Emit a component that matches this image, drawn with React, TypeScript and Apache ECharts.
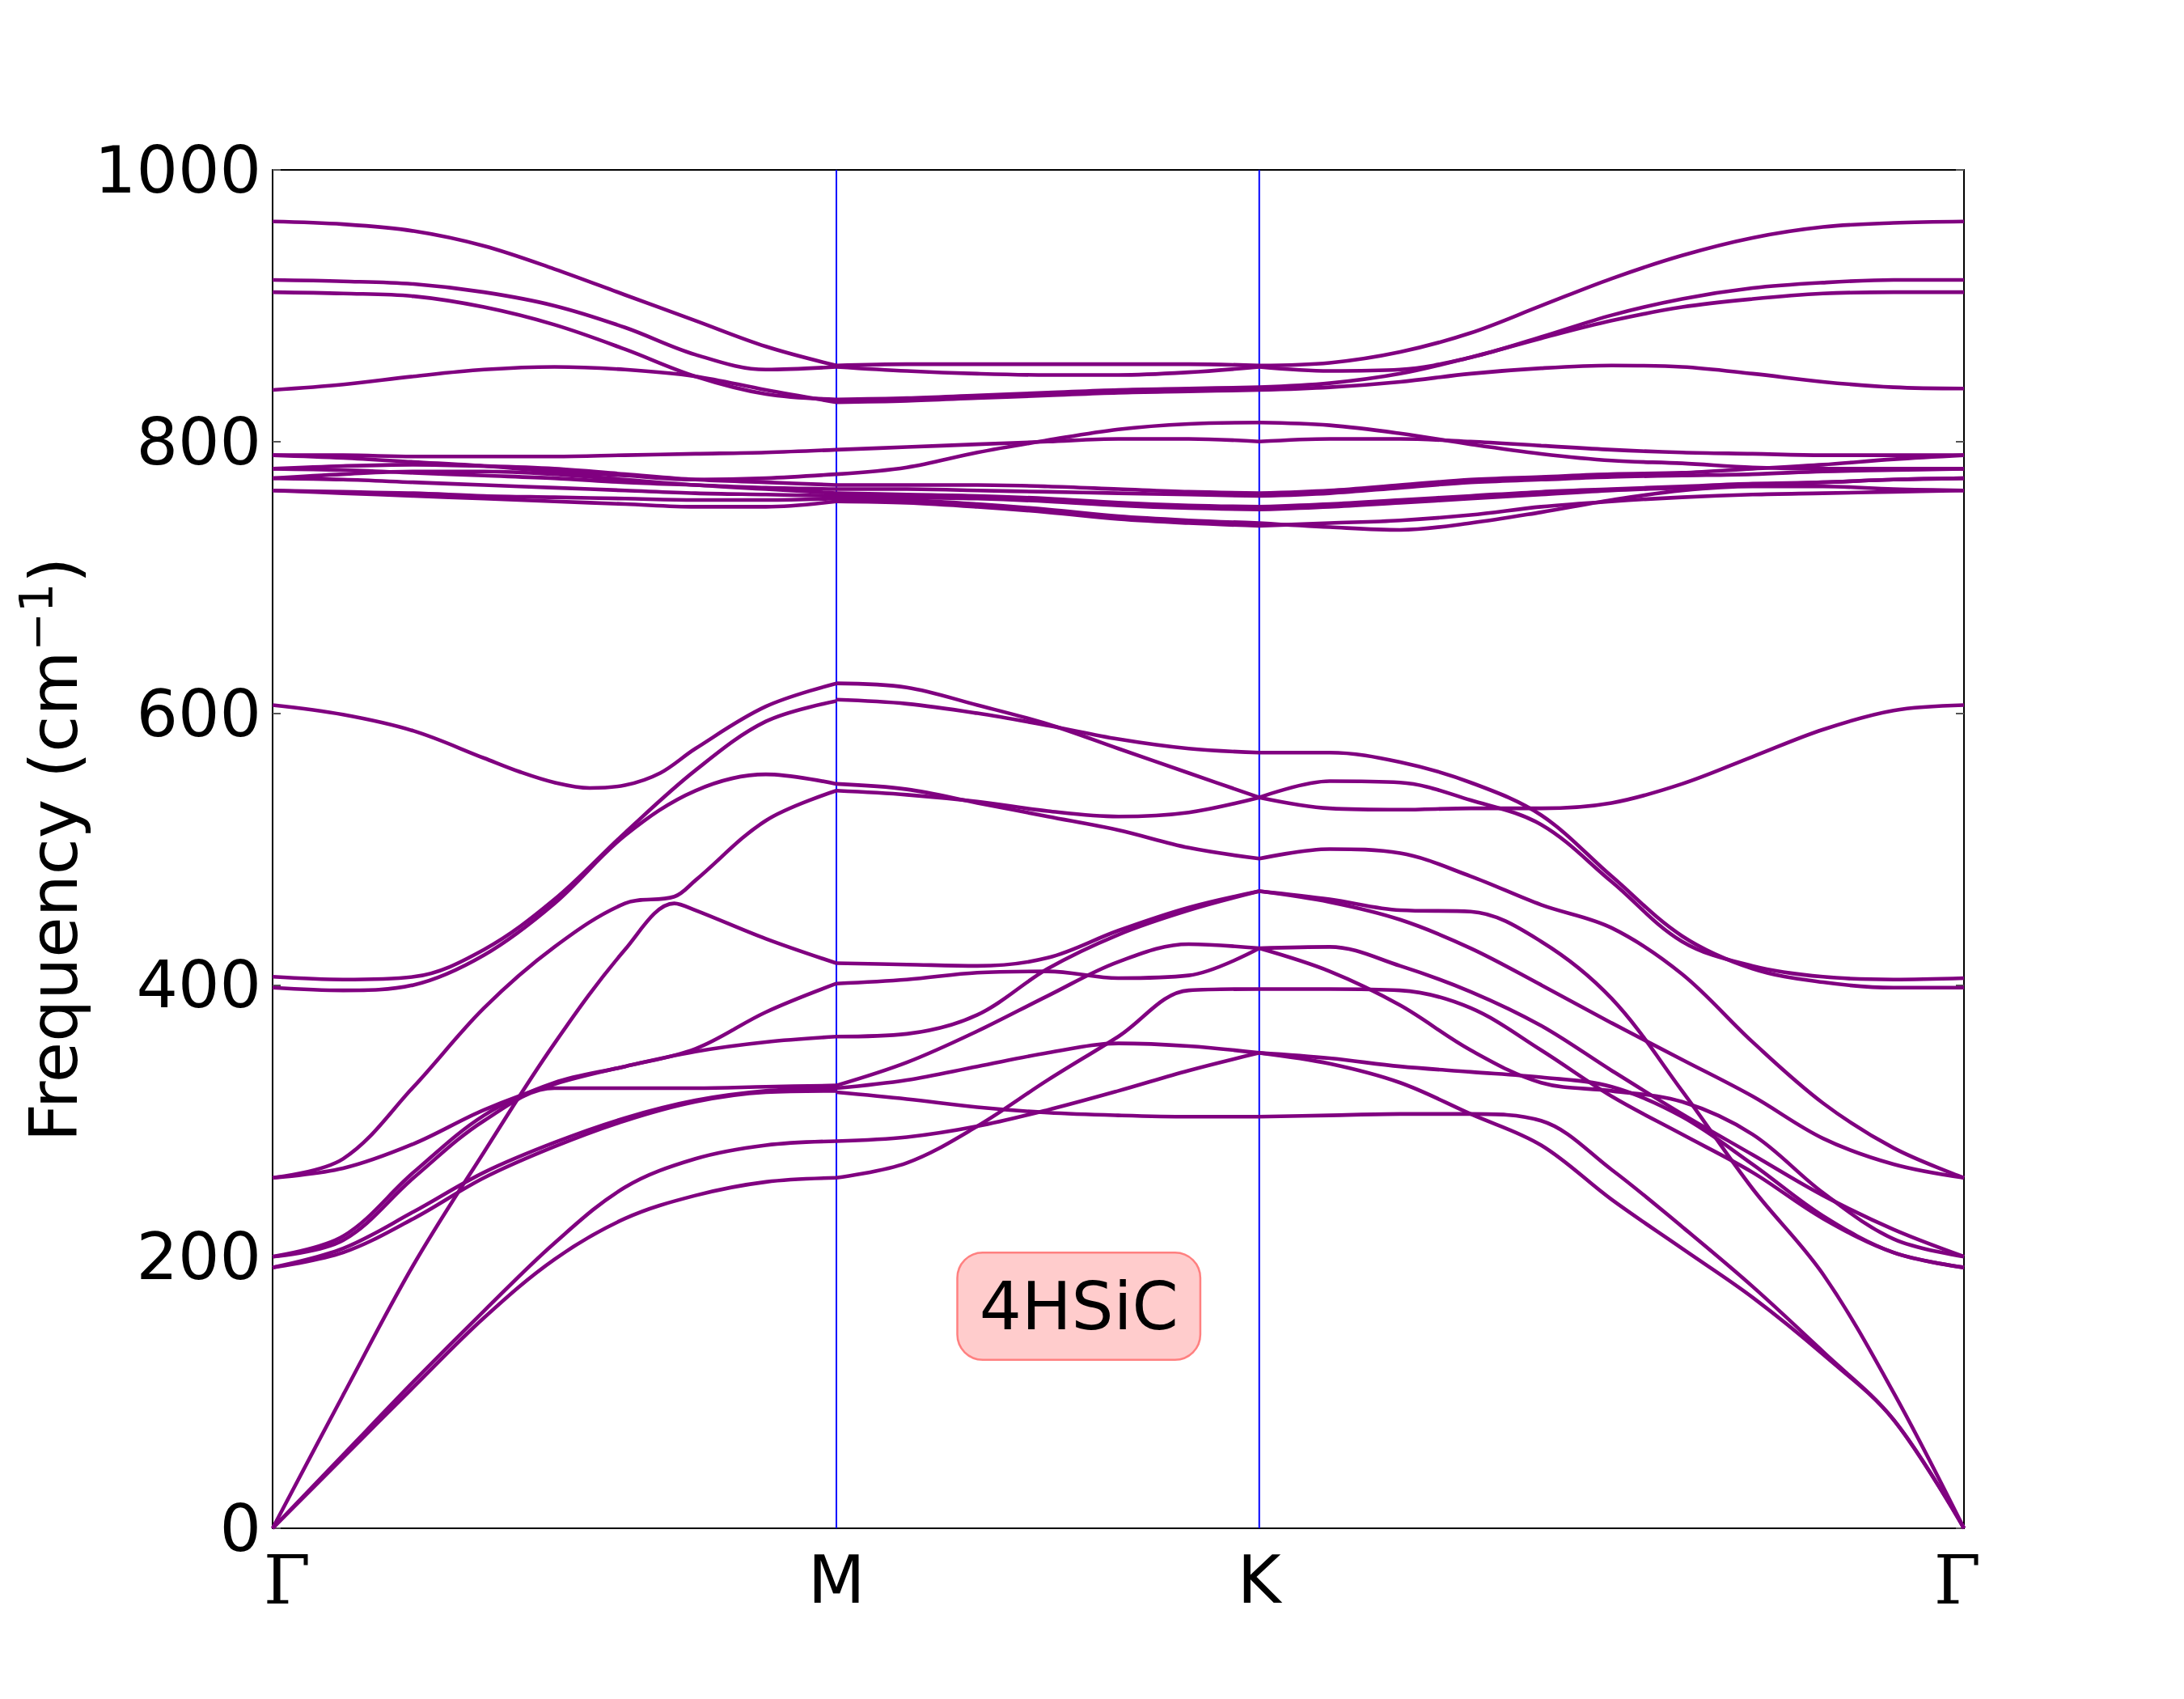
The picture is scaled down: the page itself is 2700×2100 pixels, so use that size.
import React, { useEffect, useRef } from 'react';
import * as echarts from 'echarts';

// ---- path / axes ----
const STEP = 0.5;
const GM_START = 0;
const MK_START = 4;
const KG_START = 7;
const PATH_END = 12;
const X_TICK_POS = [0, 4, 7, 12];
const X_TICK_LABELS = ['Γ', 'M', 'K', 'Γ'];
const Y_MIN = 0;
const Y_MAX = 1000;
const Y_STEP = 200;
const Y_NAME = 'Frequency (cm';
const Y_NAME_SUP = '−1';
const LABEL_TEXT = '4HSiC';
const LABEL_POS = [5.72, 163.5];

// ---- Γ → M (u = 0 … 4, step 0.5) ----
const GM_BANDS: number[][] = [
  [0, 52, 104, 155, 198, 228, 245, 255, 258],
  [0, 54, 108, 160, 210, 251, 272, 282, 285],
  [258, 265, 283, 308, 327, 340, 351, 358, 362],
  [200, 215, 262, 304, 328, 340, 353, 380, 401],
  [200, 212, 258, 300, 324, 324, 324, 325, 326],
  [192, 203, 228, 258, 281, 300, 314, 321, 322],
  [192, 206, 233, 262, 284, 302, 315, 322, 324],
  [406, 404, 406, 426, 463, 512, 558, 594, 609],
  [398, 396, 400, 422, 460, 510, 543, 555, 548],
  [962, 960, 955, 944, 927, 908, 889, 870, 856],
  [919, 918, 916, 910, 900, 884, 864, 853, 855],
  [910, 909, 907, 899, 886, 868, 848, 835, 831],
  [838, 842, 848, 853, 855, 853, 848, 838, 829],
  [790, 790, 789, 789, 789, 790, 791, 792, 794],
  [790, 788, 785, 782, 778, 775, 772, 773, 776],
  [780, 782, 783, 782, 780, 776, 772, 770, 768],
  [780, 779, 777, 775, 773, 770, 768, 766, 765],
  [773, 776, 778, 778, 776, 772, 768, 765, 762],
  [773, 772, 770, 768, 766, 764, 762, 761, 760],
  [764, 763, 762, 760, 759, 758, 757, 757, 758],
  [764, 762, 760, 758, 756, 754, 752, 752, 756],
];
// Γ → M bands with an anticrossing kink (own x grid)
const GM_KINK_X = [0, 0.5, 1, 1.5, 2, 2.5, 2.85, 3, 3.5, 4];
const GM_KINK_BANDS: number[][] = [
  [0, 98, 194, 277, 357, 426, 460, 455, 434, 416],
  [258, 272, 325, 383, 428, 460, 465, 477, 521, 543],
];
// Γ → M band with a rounded minimum (finer x grid)
const GM_FINE_X = [0, 0.5, 1, 1.5, 1.75, 2, 2.25, 2.5, 2.75, 3, 3.5, 4];
const GM_FINE_BANDS: number[][] = [
  [606, 599, 587, 567, 557, 549, 545, 547, 556, 574, 605, 622],
];

// ---- M → K (u = 4 … 7, step 0.5) ----
const MK_BANDS: number[][] = [
  [622, 619, 606, 592, 574, 556, 538],
  [610, 607, 600, 591, 581, 574, 571],
  [548, 544, 534, 524, 514, 501, 493],
  [543, 540, 535, 528, 524, 527, 538],
  [416, 415, 414, 420, 440, 457, 469],
  [401, 404, 409, 410, 405, 407, 427],
  [362, 364, 378, 412, 437, 455, 469],
  [326, 343, 366, 392, 417, 430, 427],
  [324, 330, 340, 350, 357, 355, 350],
  [321, 316, 310, 306, 304, 303, 303],
  [285, 288, 296, 308, 322, 337, 350],
  [258, 269, 296, 330, 362, 396, 397],
  [856, 857, 857, 857, 857, 857, 856],
  [855, 852, 850, 849, 849, 851, 855],
  [831, 832, 834, 836, 838, 839, 840],
  [829, 830, 832, 834, 836, 837, 838],
  [794, 796, 798, 800, 802, 802, 800],
  [776, 781, 792, 801, 809, 813, 814],
  [768, 768, 768, 767, 765, 763, 762],
  [765, 765, 764, 763, 762, 761, 760],
  [762, 761, 760, 758, 755, 753, 752],
  [760, 759, 758, 756, 753, 751, 750],
  [758, 757, 754, 750, 745, 742, 740],
  [756, 755, 752, 748, 743, 740, 738],
];

// ---- K → Γ (u = 7 … 12, step 0.5) ----
const KG_BANDS: number[][] = [
  [571, 571, 564, 549, 525, 480, 436, 412, 402, 398, 398],
  [538, 550, 549, 536, 518, 476, 432, 414, 406, 404, 405],
  [538, 530, 529, 530, 530, 534, 548, 568, 588, 602, 606],
  [493, 500, 497, 480, 459, 442, 408, 358, 313, 280, 258],
  [469, 463, 455, 454, 432, 390, 322, 250, 187, 100, 0],
  [469, 461, 448, 427, 400, 372, 345, 318, 287, 268, 258],
  [427, 428, 414, 395, 370, 337, 305, 275, 245, 220, 200],
  [427, 410, 385, 352, 328, 322, 314, 290, 247, 213, 200],
  [397, 397, 396, 383, 352, 318, 290, 262, 228, 203, 192],
  [350, 346, 340, 336, 332, 325, 303, 268, 230, 203, 192],
  [350, 342, 328, 305, 282, 242, 206, 170, 128, 80, 0],
  [303, 304, 305, 305, 300, 264, 222, 178, 130, 80, 0],
  [856, 858, 866, 880, 900, 920, 937, 950, 958, 961, 962],
  [855, 852, 853, 862, 877, 893, 905, 913, 917, 919, 919],
  [840, 843, 850, 862, 876, 889, 899, 905, 909, 910, 910],
  [838, 840, 844, 850, 854, 856, 855, 850, 844, 840, 839],
  [800, 802, 802, 800, 797, 794, 792, 791, 790, 790, 790],
  [814, 812, 806, 798, 791, 786, 784, 781, 780, 780, 780],
  [762, 764, 768, 772, 774, 776, 777, 780, 783, 787, 790],
  [760, 762, 766, 770, 772, 774, 775, 776, 778, 779, 780],
  [752, 754, 757, 760, 763, 765, 767, 769, 770, 772, 773],
  [750, 752, 755, 758, 761, 764, 766, 768, 770, 772, 773],
  [740, 737, 735, 740, 748, 757, 764, 767, 767, 765, 764],
  [738, 740, 742, 746, 752, 756, 759, 761, 762, 763, 764],
];

const BAND_COLOR = '#800080';
const DIVIDER_COLOR = '#0000ff';

const gridPairs = (x0: number, vals: number[]) => vals.map((v, i) => [x0 + i * STEP, v]);
const xPairs = (xs: number[], vals: number[]) => vals.map((v, i) => [xs[i], v]);

export default function App() {
  const ref = useRef<HTMLDivElement>(null);

  useEffect(() => {
    if (!ref.current) return;
    const chart = echarts.init(ref.current, null, { renderer: 'svg' });

    const bandStyle = { color: BAND_COLOR, width: 4.6 };
    const bandSeries: any[] = [];
    const addBand = (data: number[][]) =>
      bandSeries.push({
        type: 'line',
        data,
        showSymbol: false,
        symbol: 'none',
        smooth: 0.35,
        lineStyle: bandStyle,
        silent: true,
        z: 3,
      });
    GM_BANDS.forEach((b) => addBand(gridPairs(GM_START, b)));
    GM_KINK_BANDS.forEach((b) => addBand(xPairs(GM_KINK_X, b)));
    GM_FINE_BANDS.forEach((b) => addBand(xPairs(GM_FINE_X, b)));
    MK_BANDS.forEach((b) => addBand(gridPairs(MK_START, b)));
    KG_BANDS.forEach((b) => addBand(gridPairs(KG_START, b)));

    const dividers = X_TICK_POS.slice(1, -1).map((x) => ({
      type: 'line',
      data: [
        [x, Y_MIN],
        [x, Y_MAX],
      ],
      showSymbol: false,
      symbol: 'none',
      lineStyle: { color: DIVIDER_COLOR, width: 2 },
      silent: true,
      z: 2,
    }));

    const labelSeries = {
      type: 'scatter',
      data: [LABEL_POS],
      symbolSize: 0,
      silent: true,
      z: 5,
      itemStyle: { opacity: 1 },
      label: {
        show: true,
        position: 'inside',
        formatter: LABEL_TEXT,
        fontFamily: 'DejaVu Sans',
        fontSize: 82,
        lineHeight: 94,
        color: '#000000',
        opacity: 1,
        backgroundColor: '#ffcccc',
        borderColor: '#ff8080',
        borderWidth: 2.5,
        borderRadius: 30,
        padding: [18, 26, 18, 26],
      },
    };

    const yAxisCommon = {
      type: 'value',
      min: Y_MIN,
      max: Y_MAX,
      interval: Y_STEP,
      splitLine: { show: false },
      axisLine: { show: false },
      axisTick: { show: true, inside: true, length: 10, lineStyle: { color: '#555', width: 2 } },
    };

    const option: any = {
      animation: false,
      backgroundColor: '#ffffff',
      grid: {
        left: 337,
        right: 272,
        top: 210,
        bottom: 211,
        show: true,
        borderColor: '#000',
        borderWidth: 2,
        backgroundColor: 'transparent',
      },
      xAxis: {
        type: 'value',
        min: GM_START,
        max: PATH_END,
        interval: 1,
        splitLine: { show: false },
        axisLine: { show: false },
        axisTick: { show: false },
        axisLabel: {
          show: true,
          margin: 22,
          showMinLabel: true,
          showMaxLabel: true,
          formatter: (v: number) => {
            const i = X_TICK_POS.indexOf(Math.round(v));
            if (i < 0 || Math.abs(v - X_TICK_POS[i]) > 1e-6) return '';
            if (i === 0) return '{g0|' + X_TICK_LABELS[i] + '}';
            if (i === X_TICK_POS.length - 1) return '{g1|' + X_TICK_LABELS[i] + '}';
            return '{n|' + X_TICK_LABELS[i] + '}';
          },
          rich: {
            g0: { fontFamily: 'DejaVu Serif', fontSize: 84, color: '#000', padding: [0, 0, 0, 36] },
            g1: { fontFamily: 'DejaVu Serif', fontSize: 84, color: '#000', padding: [0, 16, 0, 0] },
            n: { fontFamily: 'DejaVu Sans', fontSize: 82, color: '#000' },
          },
        },
      },
      yAxis: [
        {
          ...yAxisCommon,
          position: 'left',
          axisLabel: {
            show: true,
            margin: 14,
            fontFamily: 'DejaVu Sans',
            fontSize: 81,
            color: '#000',
            formatter: (v: number) => String(v),
          },
        },
        {
          ...yAxisCommon,
          position: 'right',
          axisLabel: { show: false },
        },
      ],
      graphic: [
        {
          type: 'text',
          x: 66,
          y: 1050,
          rotation: Math.PI / 2,
          style: {
            text: '{a|' + Y_NAME + '}{s|' + Y_NAME_SUP + '}{a|)}',
            align: 'center',
            verticalAlign: 'middle',
            rich: {
              a: { fontFamily: 'DejaVu Sans', fontSize: 82, fill: '#000', lineHeight: 100 },
              s: { fontFamily: 'DejaVu Sans', fontSize: 57, fill: '#000', verticalAlign: 'top', lineHeight: 100, padding: [0, 0, 30, 0] },
            },
          },
        },
      ],
      series: [...dividers, ...bandSeries, labelSeries],
    };

    chart.setOption(option);
    return () => chart.dispose();
  }, []);

  return (
    <div
      ref={ref}
      style={{ position: 'fixed', left: 0, top: 0, width: 2700, height: 2100, background: '#fff' }}
    />
  );
}
